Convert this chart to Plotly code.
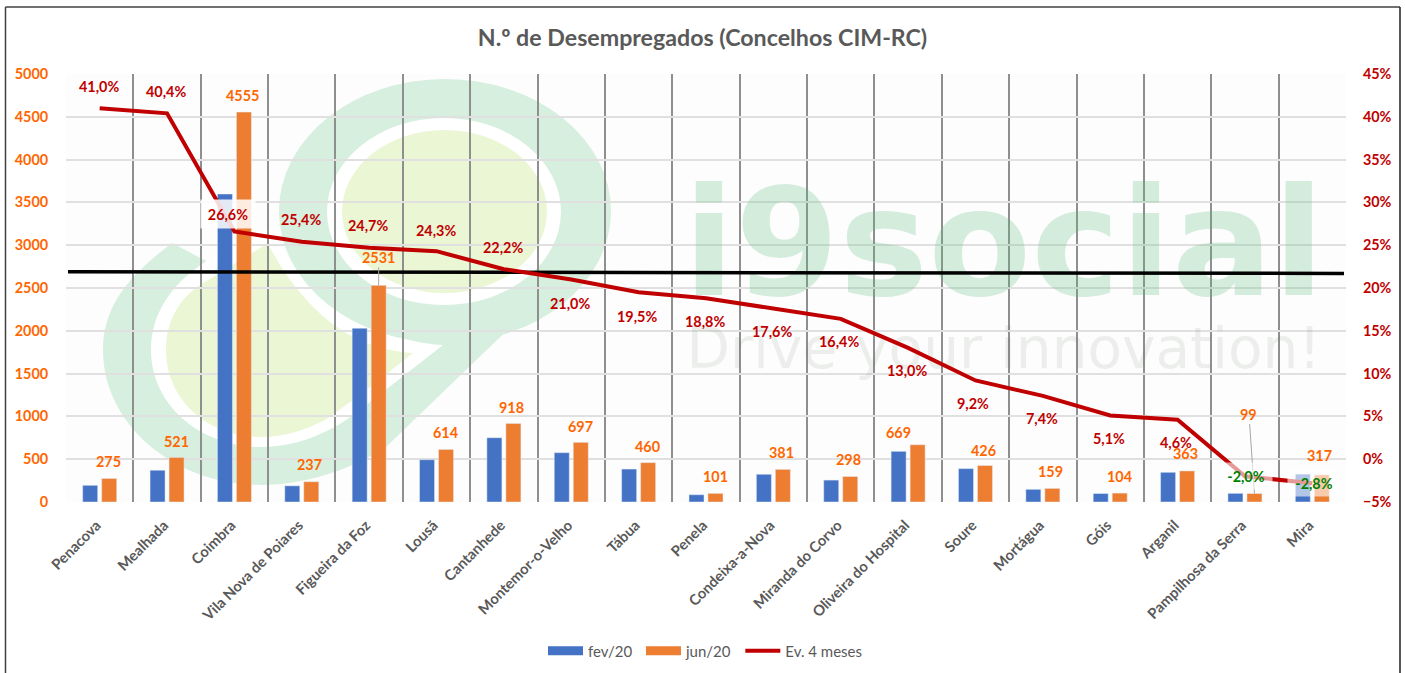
import re
import plotly.graph_objects as go

# ---------- data ----------
categories = ["Penacova", "Mealhada", "Coimbra", "Vila Nova de Poiares", "Figueira da Foz", "Lousã",
              "Cantanhede", "Montemor-o-Velho", "Tábua", "Penela", "Condeixa-a-Nova", "Miranda do Corvo",
              "Oliveira do Hospital", "Soure", "Mortágua", "Góis", "Arganil", "Pampilhosa da Serra", "Mira"]
fev20 = [195, 371, 3598, 189, 2030, 494, 751, 576, 385, 85, 324, 256, 592, 390, 148, 99, 347, 101, 326]
jun20 = [275, 521, 4555, 237, 2531, 614, 918, 697, 460, 101, 381, 298, 669, 426, 159, 104, 363, 99, 317]
evolucao = [41.0, 40.4, 26.6, 25.4, 24.7, 24.3, 22.2, 21.0, 19.5, 18.8, 17.6, 16.4, 13.0, 9.2, 7.4, 5.1, 4.6, -2.0, -2.8]
media_inicio = 21.9
media_fim = 21.7

# ---------- label placement (px relative to the mark) ----------
jun_dx = [-1, 0, -1, -1.5, 0, -1, -1.5, 0, -1, 0, -1, -1.5, -19.5, -1.5, -1.5, 0, -1.5, -5.5, -2.5]
jun_dy = [16.5, 16, 17, 17, 28, 17, 16, 16, 16, 17, 17, 16.5, 12, 15.5, 17, 17, 17, 79.5, 19]
ev_dx = [-1, -1, -6, -1, -1, -1, -1, -1, -2, -1, -1, -2, -1, -2, -1, -1, -2, 1, 2]
ev_dy = [22, 22, 18, 22, 22, 21, 22, -24, -24, -23, -23, -23, -23, -23, -23, -23, -23, 0, 0]

FONT = "Lato"
ORANGE_TXT = "#FF6600"
RED = "#C00000"
GREEN_TXT = "#008000"
GREY = "#595959"
L, R, T, B = 66, 1346, 74, 502
n = len(categories)
xs = list(range(n))
BAR_OFF = 0.141


def fx(p):
    return (p - L) / (R - L)


def fy(p):
    return (B - p) / (B - T)


def pth(s):
    toks = re.findall(r"[A-Za-z]|-?\d+\.?\d*", s)
    out, i = [], 0
    for t in toks:
        if t.isalpha():
            out.append(t)
        else:
            v = float(t)
            out.append(f"{fx(v):.5f}," if i % 2 == 0 else f"{fy(v):.5f}")
            i += 1
    return " ".join(out)


G = "#d6efde"
Y = "#ebf6d4"
shapes = [
    dict(type="rect", xref="paper", yref="paper", x0=0, x1=1, y0=0, y1=1, fillcolor="#fdfdfd", line_width=0, layer="below"),
    # lower body and tail of the logo
    dict(type="path", xref="paper", yref="paper", layer="below", fillcolor=G, line_width=0,
         path=pth("M 172 243 C 130 275 103 305 103 350 C 103 425 175 485 261 485 C 305 485 350 470 386 447 L 604 237 L 445 150 L 280 300 Z")),
    dict(type="path", xref="paper", yref="paper", layer="below", fillcolor="#ffffff", line_width=0,
         path=pth("M 205 262 C 170 285 151 315 151 350 C 151 405 200 447 261 447 C 300 447 335 430 360 410 L 443 345 C 400 343 340 320 305 280 L 268 228 Z")),
    dict(type="path", xref="paper", yref="paper", layer="below", fillcolor=Y, line_width=0,
         path=pth("M 166 350 C 166 320 180 300 197 287 L 268 243 C 285 280 320 320 350 335 C 375 348 395 352 413 353 L 360 395 L 325 420 C 305 430 285 437 261 437 C 208 437 166 400 166 350 Z")),
    # upper ring of the logo
    dict(type="circle", xref="paper", yref="paper", layer="below", fillcolor=G, line_width=0,
         x0=fx(279), x1=fx(611), y0=fy(343), y1=fy(79)),
    dict(type="circle", xref="paper", yref="paper", layer="below", fillcolor="#ffffff", line_width=0,
         x0=fx(327), x1=fx(561), y0=fy(305), y1=fy(118)),
    dict(type="circle", xref="paper", yref="paper", layer="below", fillcolor=Y, line_width=0,
         x0=fx(342), x1=fx(547), y0=fy(293), y1=fy(130)),
    # outer frame
    dict(type="line", xref="paper", yref="paper", x0=fx(5.5), x1=fx(5.5), y0=fy(673), y1=fy(7), line=dict(color="#404040", width=1.5)),
    dict(type="line", xref="paper", yref="paper", x0=fx(5.5), x1=fx(1400), y0=fy(7), y1=fy(7), line=dict(color="#404040", width=1.5)),
    dict(type="line", xref="paper", yref="paper", x0=fx(1400), x1=fx(1400), y0=fy(673), y1=fy(7), line=dict(color="#202020", width=1.5)),
]

fig = go.Figure()

# watermark wording, beneath the data marks
fig.add_trace(go.Scatter(x=[13.42], y=[2860], mode="text", text=["i9social"], showlegend=False, hoverinfo="skip",
                         textfont=dict(family="DejaVu Sans", size=150, color="rgba(91,187,123,0.25)", weight="bold")))
fig.add_trace(go.Scatter(x=[13.42], y=[1730], mode="text", text=["Drive your innovation!"], showlegend=False, hoverinfo="skip",
                         textfont=dict(family="DejaVu Sans", size=56.5, color="rgba(100,120,100,0.11)")))

fig.add_trace(go.Bar(x=xs, y=fev20, name="fev/20", marker_color="#4472C4", showlegend=False, legendgroup="a"))
fig.add_trace(go.Bar(x=xs, y=jun20, name="jun/20", marker_color="#ED7D31", showlegend=False, legendgroup="b"))
# legend swatches (a trailing no-break space only widens the entry to the reference's 100 px step)
fig.add_trace(go.Scatter(x=[None], y=[None], mode="lines", name="fev/20\u00a0", legendgroup="a", line=dict(color="#4472C4", width=9)))
fig.add_trace(go.Scatter(x=[None], y=[None], mode="lines", name="jun/20\u00a0", legendgroup="b", line=dict(color="#ED7D31", width=9)))

fig.add_trace(go.Scatter(x=[-0.47, n - 1 + 0.47], y=[media_inicio, media_fim], yaxis="y2", mode="lines",
                         line=dict(color="#000000", width=3.5), showlegend=False))
fig.add_trace(go.Scatter(x=xs, y=evolucao, yaxis="y2", mode="lines", name="Ev. 4 meses",
                         line=dict(color=RED, width=4)))

LBL = 14.4
ann = []
for i, v in enumerate(jun20):
    a = dict(x=i + BAR_OFF, y=v, xref="x", yref="y", text=str(v),
             font=dict(family=FONT, size=LBL, color=ORANGE_TXT, weight="bold"))
    if v in (2531, 99):
        a.update(showarrow=True, ax=jun_dx[i], ay=-jun_dy[i], axref="pixel", ayref="pixel", arrowhead=0,
                 arrowwidth=1, arrowcolor="#a6a6a6", standoff=0)
    else:
        a.update(showarrow=False, xshift=jun_dx[i], yshift=jun_dy[i])
    ann.append(a)
for i, v in enumerate(evolucao):
    txt = f"{v:.1f}".replace(".", ",") + "%"
    a = dict(x=i, y=v, xref="x", yref="y2", text=txt, showarrow=False, xshift=ev_dx[i], yshift=ev_dy[i],
             font=dict(family=FONT, size=LBL, color=GREEN_TXT if v < 0 else RED, weight="bold"))
    if v < 0:
        a.update(bgcolor="rgba(255,255,255,0.6)", width=50, height=24)
    if v == 26.6:
        a.update(bgcolor="rgba(255,255,255,0.85)", width=52, height=26)
    ann.append(a)

fig.update_layout(
    width=1405, height=673, autosize=False,
    margin=dict(l=L, r=1405 - R, t=T, b=673 - B, autoexpand=False),
    paper_bgcolor="#ffffff", plot_bgcolor="rgba(0,0,0,0)",
    font=dict(family=FONT, color=GREY),
    title=dict(text="N.º de Desempregados (Concelhos CIM-RC)", x=0.5, xanchor="center", y=1 - 37.5 / 673, yanchor="middle",
               font=dict(family=FONT, size=23.2, color=GREY, weight="bold")),
    barmode="group", bargap=0.436, bargroupgap=0.21,
    shapes=shapes, annotations=ann,
    showlegend=True,
    legend=dict(orientation="h", x=fx(543), xanchor="left", y=fy(651), yanchor="middle", itemwidth=35,
                font=dict(family=FONT, size=15, color=GREY), bgcolor="rgba(0,0,0,0)",
                traceorder="normal", itemclick=False, itemdoubleclick=False),
    xaxis=dict(range=[-0.5, n - 0.5], tickmode="array", tickvals=xs, ticktext=categories, tickangle=-45,
               showgrid=False, zeroline=False, showline=False, ticks="outside", ticklen=8, tickcolor="rgba(0,0,0,0)",
               ticklabelshift=-3,
               tickfont=dict(family=FONT, size=14.7, color=GREY, weight="bold"),
               minor=dict(tickmode="array", tickvals=[k - 0.5 for k in range(n + 1)], showgrid=True,
                          gridcolor="#8f8f8f", gridwidth=1.5, ticks="")),
    yaxis=dict(range=[0, 5000], dtick=500, showgrid=True, gridcolor="#e0e0e0", gridwidth=1.5, zeroline=False,
               showline=False, ticks="outside", ticklen=14, tickcolor="rgba(0,0,0,0)",
               tickfont=dict(family=FONT, size=14.4, color=ORANGE_TXT, weight="bold")),
    yaxis2=dict(range=[-5, 45], dtick=5, overlaying="y", side="right", showgrid=False, zeroline=False, showline=False,
                ticksuffix="%", ticks="outside", ticklen=13, tickcolor="rgba(0,0,0,0)",
                tickfont=dict(family=FONT, size=14.4, color=RED, weight="bold")),
)

fig.write_html("out.html", config={"displayModeBar": False},
               post_script="document.body.style.margin='0';document.body.style.overflow='hidden';")
